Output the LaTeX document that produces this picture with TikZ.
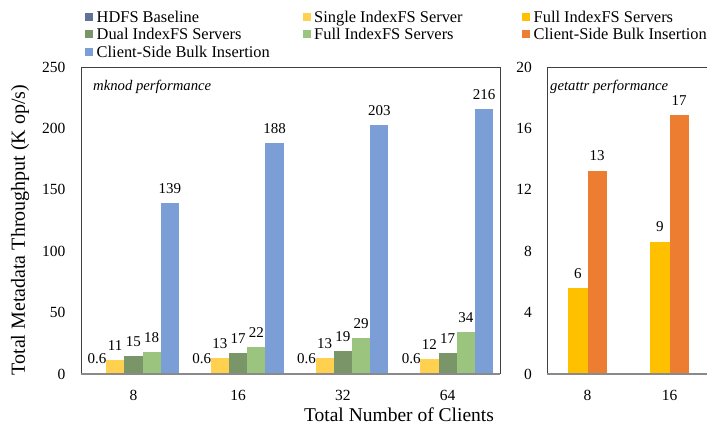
\documentclass[tikz,border=0pt]{standalone}
\usepackage{fontspec}
\setmainfont{Liberation Serif}
\newfontfamily\tnr{Liberation Serif}
\definecolor{hdfs}{HTML}{5F7399}
\definecolor{single}{HTML}{FFD14F}
\definecolor{dual}{HTML}{7A9668}
\definecolor{fullg}{HTML}{9BC47E}
\definecolor{bulk}{HTML}{7C9ED6}
\definecolor{fully}{HTML}{FFC000}
\definecolor{bulko}{HTML}{ED7D31}
\definecolor{framec}{HTML}{404040}
\definecolor{axisc}{HTML}{8A8A8A}
\begin{document}
\begin{tikzpicture}[x=1pt,y=-1pt,
  frame/.style={draw=framec,line width=0.8pt},
  axisline/.style={draw=axisc,line width=1.3pt},
  vlab/.style={inner sep=0pt,anchor=base,font=\tnr\fontsize{15}{17}\selectfont},
  ticklab/.style={inner sep=0pt,font=\tnr\fontsize{15.5}{18}\selectfont},
  legtext/.style={inner sep=0pt,anchor=base west,font=\tnr\fontsize{16.4}{18}\selectfont},
  legsq/.style={minimum size=8pt,inner sep=0pt},
  caption/.style={inner sep=0pt,anchor=base west,font=\tnr\fontsize{14.7}{16}\selectfont\itshape},
  axtitle/.style={inner sep=0pt}]
\useasboundingbox (0,0) rectangle (707,428);
\clip (0,0) rectangle (707,428);

% ---- legend ----
\node[legsq,fill=hdfs]   (sq1) at (89,17) {};
\node[legtext] (lg1) at (96.5,22.5) {HDFS Baseline};
\node[legsq,fill=dual]   (sq2) at (89,34.5) {};
\node[legtext] (lg2) at (96.5,40) {Dual IndexFS Servers};
\node[legsq,fill=bulk]   (sq3) at (89,52) {};
\node[legtext] (lg3) at (96.5,57.5) {Client-Side Bulk Insertion};
\node[legsq,fill=single] (sq4) at (307,17) {};
\node[legtext] (lg4) at (314,22.5) {Single IndexFS Server};
\node[legsq,fill=fullg]  (sq5) at (307,34.5) {};
\node[legtext] (lg5) at (314,40) {Full IndexFS Servers};
\node[legsq,fill=fully]  (sq6) at (526,17) {};
\node[legtext] (lg6) at (533.5,22.5) {Full IndexFS Servers};
\node[legsq,fill=bulko]  (sq7) at (526,34.5) {};
\node[legtext] (lg7) at (533.5,40) {Client-Side Bulk Insertion};

% ---- left plot ----
\draw[frame] (81,374) -- (81,67) -- (500,67) -- (500,374);
\foreach \g/\a/\b/\c/\d/\e in {0/0.6/11/15/18/139,1/0.6/13/17/22/188,2/0.6/13/19/29/203,3/0.6/12/17/34/216}{
  \pgfmathsetmacro\cx{133.4+104.75*\g}
  \foreach \v/\col [count=\i from 0] in {\a/hdfs,\b/single,\c/dual,\d/fullg,\e/bulk}{
    \pgfmathsetmacro\bx{\cx-45.5+\i*18.2}
    \pgfmathsetmacro\by{374-\v*1.228}
    \fill[\col] (\bx,374) rectangle (\bx+18.2,\by);
    \node[vlab] (lab-\g-\i) at (\bx+9.1,\by-9.5) {\v};
  }
}
\draw[axisline] (81,374) -- (500,374);
\foreach \t in {0,50,100,150,200,250}{
  \node[ticklab,anchor=east] (yt\t) at (65.5,374-\t*1.228) {\t};
}
\foreach \n [count=\k from 0] in {8,16,32,64}{
  \node[ticklab,anchor=base] (xt\n) at (133.4+104.75*\k,400) {\n};
}
\node[caption] (cap1) at (93,90.5) {mknod performance};
\node[axtitle,rotate=90,font=\tnr\fontsize{20}{22}\selectfont] (ylab) at (20,230) {Total Metadata Throughput (K op/s)};
\node[axtitle,anchor=base,font=\tnr\fontsize{19.5}{22}\selectfont] (xlab) at (399,421.5) {Total Number of Clients};

% ---- right plot ----
\draw[frame] (547,374) -- (547,67) -- (715,67);
\foreach \g/\y/\ylab/\o/\olab in {0/5.6/6/13.25/13,1/8.6/9/16.85/17}{
  \pgfmathsetmacro\cx{587.5+82*\g}
  \pgfmathsetmacro\yy{374-\y*15.35}
  \pgfmathsetmacro\oy{374-\o*15.35}
  \fill[fully] (\cx-19.2,374) rectangle (\cx,\yy);
  \fill[bulko] (\cx,374) rectangle (\cx+19.2,\oy);
  \node[vlab] (rl-\g-a) at (\cx-9.6,\yy-10) {\ylab};
  \node[vlab] (rl-\g-b) at (\cx+9.6,\oy-10) {\olab};
}
\draw[axisline] (547,374) -- (715,374);
\foreach \t in {0,4,8,12,16,20}{
  \node[ticklab,anchor=east] (rt\t) at (532,374-\t*15.35) {\t};
}
\node[ticklab,anchor=base] (rx8) at (587.5,400) {8};
\node[ticklab,anchor=base] (rx16) at (669.5,400) {16};
\node[caption] (cap2) at (550,90.5) {getattr performance};
\end{tikzpicture}
\end{document}
